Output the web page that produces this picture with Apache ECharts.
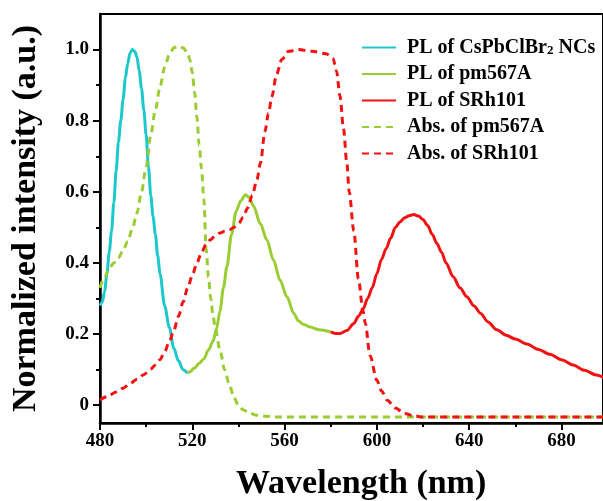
<!DOCTYPE html>
<html>
<head>
<meta charset="utf-8">
<script src="https://cdn.jsdelivr.net/npm/echarts@6/dist/echarts.min.js"></script>
<style>html,body{margin:0;padding:0;background:#fff}#c{width:603px;height:501px}</style>
</head>
<body>
<div id="c"></div>
<script>
// ---- data ----
const seriesNames = ['PL of CsPbClBr2 NCs', 'PL of pm567A', 'PL of SRh101', 'Abs. of pm567A', 'Abs. of SRh101'];
const xAxisTitle = 'Wavelength (nm)';
const yAxisTitle = 'Normalized intensity (a.u.)';

const plCsWl  = [480,481,482,483,484,485,486,487,488,489,490,491,492,493,494,495,496,497,498,499,500,501,502,503,504,505,506,508,510,512,514,516,518];
const plCsVal = [0.28,0.29,0.32,0.37,0.43,0.49,0.57,0.66,0.74,0.80,0.86,0.92,0.96,0.99,1.0,0.995,0.98,0.94,0.89,0.83,0.76,0.67,0.59,0.53,0.48,0.42,0.37,0.28,0.22,0.16,0.125,0.10,0.09];

const plPmWl  = [518,519,521,523,525,527,529,530.5,532,533.5,535,537,539,541,543,544.5,546.5,549.5,552.3,555.2,558,561,564,566,568,571,575,580];
const plPmVal = [0.09,0.094,0.105,0.118,0.13,0.155,0.18,0.215,0.265,0.33,0.39,0.48,0.545,0.575,0.592,0.585,0.56,0.51,0.465,0.408,0.352,0.305,0.258,0.237,0.228,0.22,0.212,0.206];

const plSrWl  = [580,582,584,587,590,592,594,596,598,600,602,604,606,608,610,612,614,616,618,620,622,624,626,628,630,633,636,639,642,645,648,652,656,660,665,670,675,680,685,690,695,700];
const plSrVal = [0.206,0.202,0.202,0.21,0.23,0.25,0.27,0.30,0.33,0.37,0.41,0.44,0.47,0.50,0.515,0.527,0.533,0.536,0.532,0.522,0.505,0.48,0.455,0.43,0.40,0.362,0.33,0.305,0.28,0.258,0.235,0.212,0.197,0.186,0.172,0.157,0.143,0.128,0.113,0.098,0.085,0.072];

const absPmWl  = [480,482,484,486,488,490,492,494,496,498,500,502,504,506,508,510,512,514,516,518,519,520,521,522,523,524,525,526,527,528,529,530,532,534,536,538,540,542,545,548,552,556,600,650,700];
const absPmVal = [0.33,0.36,0.385,0.40,0.415,0.435,0.46,0.495,0.54,0.60,0.67,0.76,0.83,0.895,0.95,0.985,1.005,1.01,1.005,0.99,0.97,0.935,0.88,0.81,0.73,0.665,0.58,0.44,0.36,0.30,0.25,0.215,0.155,0.10,0.06,0.022,0.0,-0.013,-0.023,-0.028,-0.031,-0.033,-0.033,-0.033,-0.033];

const absSrWl  = [480,483,487,490,493,496,499,502,504,506,508,510,512,514,516,518,520,522,524,526,528,530,532,534,536,538,540,542,544,546,548,549.5,551.5,553,554.5,556.5,558.8,561.7,566,572,578,581,582.5,584,585.5,587,588,590,592,594,595,597,600,602,604.5,608,612,616,620,660,700];
const absSrVal = [0.015,0.024,0.037,0.048,0.061,0.073,0.086,0.102,0.113,0.128,0.15,0.178,0.21,0.25,0.29,0.33,0.365,0.40,0.43,0.452,0.466,0.477,0.484,0.489,0.493,0.50,0.51,0.528,0.555,0.59,0.634,0.68,0.77,0.82,0.868,0.93,0.972,0.995,1.0,0.995,0.988,0.975,0.94,0.87,0.78,0.68,0.60,0.49,0.355,0.265,0.23,0.14,0.07,0.04,0.014,-0.008,-0.023,-0.03,-0.033,-0.033,-0.033];

const xMajorTicks = [480,520,560,600,640,680];
const xMinorTicks = [500,540,580,620,660];
const yMajorTicks = [0,0.2,0.4,0.6,0.8,1.0];
const yMinorTicks = [0.1,0.3,0.5,0.7,0.9];

// ---- chart ----
const FONT = "'Liberation Serif','Times New Roman',serif";
const cCyan = '#1CC8CB', cGreen = '#9ACD32', cRed = '#F21212';
function zip(a, b) { return a.map((v, i) => [v, b[i]]); }

const GRID = {left: 100, right: 0, top: 14, bottom: 78};

const chart = echarts.init(document.getElementById('c'), null, {renderer: 'canvas'});
const solid = (c) => ({color: c, width: 3, type: 'solid'});
const dashed = (c) => ({color: c, width: 3, type: [7, 5]});
function mk(name, wl, val, color, ls) {
  return {name, type: 'line', data: zip(wl, val), showSymbol: false, symbol: 'none',
    smooth: 0.3, smoothMonotone: 'x', lineStyle: ls, itemStyle: {color}, xAxisIndex: 0, yAxisIndex: 0};
}

chart.setOption({
  animation: false,
  backgroundColor: '#fff',
  title: {
    text: xAxisTitle, left: 236, top: 467, padding: 0,
    textStyle: {fontFamily: FONT, fontWeight: 'bold', fontSize: 34, color: '#000'}
  },
  grid: [
    Object.assign({show: true, borderColor: '#000', borderWidth: 2, backgroundColor: 'transparent'}, GRID),
    Object.assign({show: false}, GRID)
  ],
  legend: {
    orient: 'vertical', left: 361, top: 35, padding: 0, itemWidth: 34, itemHeight: 14, itemGap: 6.5,
    data: seriesNames,
    itemStyle: {color: 'transparent', borderColor: 'transparent', borderWidth: 0, opacity: 0},
    formatter: (n) => n === seriesNames[0] ? 'PL of CsPbClBr{sub|2} NCs' : n,
    textStyle: {fontFamily: FONT, fontWeight: 'bold', fontSize: 20, color: '#000', lineHeight: 19, padding: [0,0,0,6],
      rich: {sub: {fontFamily: FONT, fontWeight: 'bold', fontSize: 13, color: '#000', lineHeight: 19, verticalAlign: 'bottom', padding: [9,0,0,0]}}}
  },
  xAxis: [{
    type: 'value', min: 480, max: 698, interval: 40, gridIndex: 0,
    axisLine: {show: true, onZero: false, lineStyle: {color: '#000', width: 2.5}},
    axisTick: {show: true, inside: false, length: 7, lineStyle: {color: '#000', width: 2}, customValues: xMajorTicks},
    axisLabel: {fontFamily: FONT, fontWeight: 'bold', fontSize: 19, color: '#000', margin: 9, customValues: xMajorTicks},
    splitLine: {show: false}
  }, {
    // minor ticks on an identical overlay grid
    type: 'value', min: 480, max: 698, position: 'bottom', gridIndex: 1,
    axisLine: {show: false, onZero: false},
    axisTick: {show: true, inside: false, length: 4, lineStyle: {color: '#000', width: 2}, customValues: xMinorTicks},
    axisLabel: {show: false}, splitLine: {show: false}
  }],
  yAxis: [{
    type: 'value', min: -0.05, max: 1.1, gridIndex: 0,
    name: yAxisTitle, nameLocation: 'middle', nameGap: 57,
    nameTextStyle: {fontFamily: FONT, fontWeight: 'bold', fontSize: 34, color: '#000'},
    axisLine: {show: true, onZero: false, lineStyle: {color: '#000', width: 2.5}},
    axisTick: {show: true, inside: false, length: 7, lineStyle: {color: '#000', width: 2}, customValues: yMajorTicks},
    axisLabel: {fontFamily: FONT, fontWeight: 'bold', fontSize: 19, color: '#000', margin: 11, customValues: yMajorTicks,
      formatter: (v) => Math.abs(v) < 1e-9 ? '0' : v.toFixed(1)},
    splitLine: {show: false}
  }, {
    type: 'value', min: -0.05, max: 1.1, position: 'left', gridIndex: 1,
    axisLine: {show: false, onZero: false},
    axisTick: {show: true, inside: false, length: 4, lineStyle: {color: '#000', width: 2}, customValues: yMinorTicks},
    axisLabel: {show: false}, splitLine: {show: false}
  }],
  series: [
    mk(seriesNames[0], plCsWl, plCsVal, cCyan, solid(cCyan)),
    mk(seriesNames[1], plPmWl, plPmVal, cGreen, solid(cGreen)),
    mk(seriesNames[2], plSrWl, plSrVal, cRed, solid(cRed)),
    mk(seriesNames[3], absPmWl, absPmVal, cGreen, dashed(cGreen)),
    mk(seriesNames[4], absSrWl, absSrVal, cRed, dashed(cRed))
  ]
});
</script>
</body>
</html>
